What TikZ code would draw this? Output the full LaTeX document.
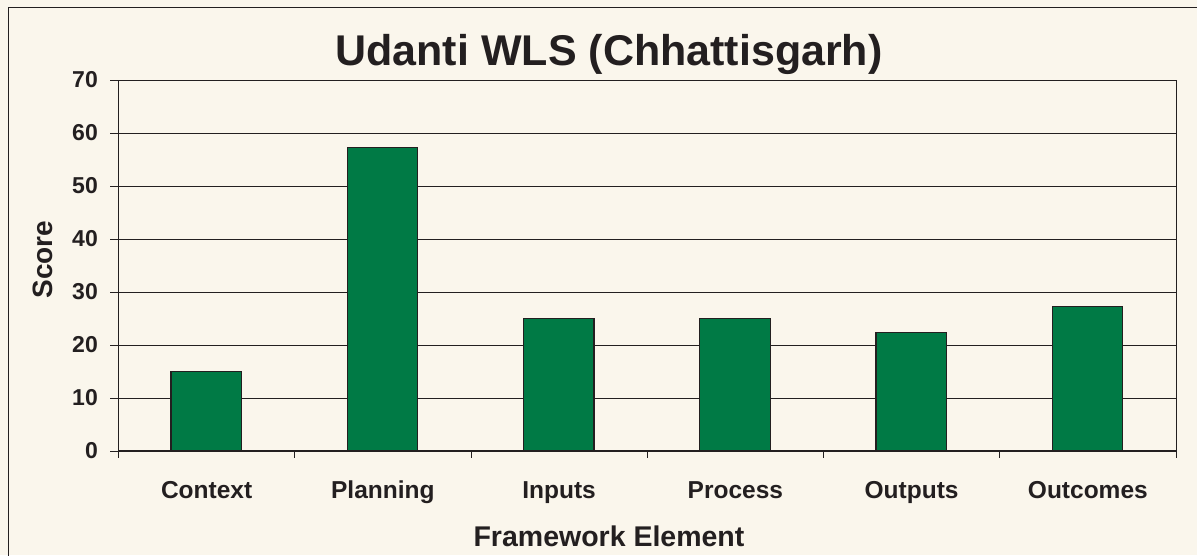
\documentclass[tikz,border=0pt]{standalone}
\usepackage{fontspec}
\setmainfont{Liberation Sans}
\definecolor{bg}{HTML}{FAF6EC}
\definecolor{barg}{HTML}{007A45}
\definecolor{ink}{HTML}{231F20}
\begin{document}
\begin{tikzpicture}[x=1pt,y=-1pt,
  grid/.style={draw=ink,line width=1pt},
  bar/.style={draw=ink,line width=1.3pt,fill=barg},
  ticklab/.style={anchor=east,font=\fontsize{23}{23}\selectfont\bfseries,text=ink,inner sep=0pt},
  catlab/.style={anchor=base,font=\fontsize{24.5}{24.5}\selectfont\bfseries,text=ink,inner sep=0pt}]
\fill[bg] (0,0) rectangle (1197,555);
\useasboundingbox (0,0) rectangle (1197,555);
\draw[ink,line width=1.2pt] (8.5,560) -- (8.5,7.5) -- (1200,7.5);
% gridlines and y ticks
\foreach \v in {0,10,...,70}{
  \draw[grid] (110,{451-5.3*\v}) -- (1176,{451-5.3*\v});
  \node[ticklab] at (98,{451-5.3*\v}) {\v};
}
\draw[grid] (118.5,80) -- (118.5,451);
\draw[grid] (1176,80) -- (1176,451);
\draw[ink,line width=1.6pt] (118,451) -- (1176,451);
\foreach \i in {0,...,6}{
  \draw[grid] ({118.5+176.25*\i},451) -- ({118.5+176.25*\i},458);
}
% bars
\foreach \v/\n [count=\i from 0] in {15/Context,57.3/Planning,25/Inputs,25/Process,22.3/Outputs,27.3/Outcomes}{
  \draw[bar] ({118.5+176.25*\i+52.5},451) rectangle ({118.5+176.25*\i+123},{451-5.3*\v});
  \node[catlab] (l\i) at ({118.5+176.25*\i+88.1},498) {\n};
}
\node[anchor=base,inner sep=0pt,font=\fontsize{43}{43}\selectfont\bfseries,text=ink] (title) at (609,65) {Udanti WLS (Chhattisgarh)};
\node[anchor=base,inner sep=0pt,font=\fontsize{28}{28}\selectfont\bfseries,text=ink,rotate=90] (ylab) at (52,259.5) {Score};
\node[anchor=base,inner sep=0pt,font=\fontsize{28.5}{28.5}\selectfont\bfseries,text=ink] (xlab) at (609,546) {Framework Element};
\end{tikzpicture}
\end{document}
